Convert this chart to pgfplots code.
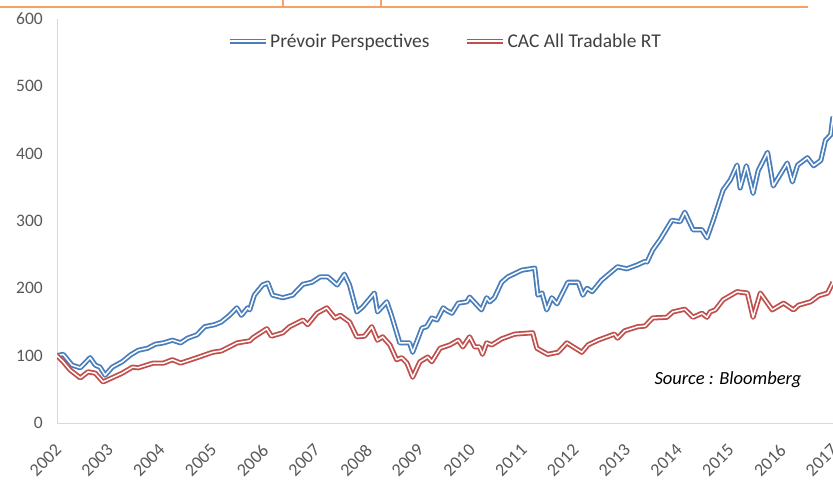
\documentclass[border=0pt]{standalone}
\usepackage{pgfplots}
\pgfplotsset{compat=1.18}
\usepackage{fontspec}
\setmainfont{Carlito}
\definecolor{pblue}{RGB}{74,126,187}
\definecolor{cred}{RGB}{192,80,77}
\definecolor{tickgray}{RGB}{89,89,89}
\definecolor{legtext}{RGB}{64,64,64}
\definecolor{axgray}{RGB}{217,217,217}
\definecolor{orangeline}{RGB}{247,160,100}
\begin{document}
\begin{tikzpicture}
\useasboundingbox (0,0) rectangle (833bp,480bp);
\fill[white] (0,0) rectangle (833bp,480bp);
\draw[orangeline, line width=2bp] (0,473bp) -- (808bp,473bp);
\draw[orangeline, line width=2bp] (283bp,473bp) -- (283bp,480bp);
\draw[orangeline, line width=2bp] (381bp,473bp) -- (381bp,480bp);
\begin{axis}[
  at={(57bp,57bp)}, anchor=south west,
  scale only axis, width=776bp, height=404bp,
  xmin=2002, xmax=2017, ymin=0, ymax=600,
  axis lines*=left,
  axis line style={axgray, line width=1bp},
  xtick={2002,...,2017}, ytick={0,100,...,600},
  major tick length=0pt,
  /pgf/number format/assume math mode=true,
  /pgf/number format/1000 sep={},
  x tick label style={rotate=45, anchor=north east, inner sep=0pt,
     font=\fontsize{18bp}{21bp}\selectfont, text=tickgray, xshift=-16bp, yshift=-12bp},
  y tick label style={anchor=east, inner sep=0pt,
     font=\fontsize{17.5bp}{20bp}\selectfont, text=tickgray, xshift=-14bp},
  legend style={at={(0.5,0.945)}, anchor=center, draw=none, fill=none,
     legend columns=2, font=\fontsize{19.5bp}{22bp}\selectfont, text=legtext,
     /tikz/every even column/.append style={column sep=33bp}, inner sep=0pt},
  legend cell align=left,
  legend image code/.code={\draw[#1] (0bp,0bp) -- (36bp,0bp);},
  every axis plot/.append style={line join=round, line width=1.8bp, double=white, double distance=1.5bp},
]
\addplot[pblue] coordinates {
(2002.00,100) (2002.12,102) (2002.29,86) (2002.45,82) (2002.64,97) (2002.74,86)
(2002.83,83) (2002.93,71) (2003.07,83) (2003.26,91) (2003.42,101) (2003.57,108)
(2003.75,111) (2003.90,117) (2004.06,119) (2004.23,123) (2004.39,119)
(2004.525,126) (2004.705,131) (2004.855,143)
(2005.045,146) (2005.175,150) (2005.335,160) (2005.475,171) (2005.565,160) (2005.685,171)
(2005.725,168) (2005.815,190) (2005.975,205) (2006.075,208) (2006.165,190) (2006.365,186)
(2006.555,190) (2006.755,206) (2006.925,209) (2007.085,217) (2007.235,217) (2007.415,205)
(2007.555,221) (2007.655,205) (2007.795,165) (2007.905,172) (2008.135,193) (2008.195,165)
(2008.375,180) (2008.465,160) (2008.625,119) (2008.815,119) (2008.875,105) (2009.055,141)
(2009.145,143) (2009.245,156) (2009.345,153) (2009.465,171) (2009.535,167) (2009.635,163)
(2009.755,178) (2009.925,180)
(2009.975,187) (2010.205,168) (2010.305,186) (2010.365,180) (2010.455,186) (2010.595,209)
(2010.715,217) (2010.985,227) (2011.235,230) (2011.295,190) (2011.375,193) (2011.465,168)
(2011.565,186) (2011.665,177) (2011.875,209) (2012.075,209) (2012.165,190) (2012.245,200)
(2012.345,195)
(2012.525,212) (2012.835,232) (2013.015,229) (2013.225,235) (2013.365,240) (2013.405,239)
(2013.515,257) (2013.655,272) (2013.885,301) (2014.045,299) (2014.135,313) (2014.295,287)
(2014.465,287) (2014.565,275) (2014.685,301) (2014.875,346) (2015.015,361) (2015.145,383)
(2015.205,349) (2015.325,382) (2015.455,341) (2015.555,375) (2015.735,402) (2015.845,352)
(2016.115,386) (2016.215,358) (2016.315,383) (2016.505,394) (2016.625,382) (2016.765,390)
(2016.855,420) (2016.955,428) (2017.0,455)
};
\addlegendentry{Prévoir Perspectives}
\addplot[cred] coordinates {
(2002.00,100) (2002.12,91) (2002.25,79) (2002.45,67) (2002.60,76) (2002.74,74)
(2002.89,61) (2003.09,68) (2003.26,74) (2003.46,83) (2003.57,82) (2003.86,89)
(2004.06,89) (2004.23,94) (2004.39,89) (2004.705,97)
(2005.005,105) (2005.175,107) (2005.485,119) (2005.725,122) (2005.795,127) (2006.055,140)
(2006.145,129) (2006.365,134) (2006.495,143) (2006.755,153) (2006.845,146) (2007.025,163)
(2007.215,171) (2007.375,156) (2007.475,160)
(2007.655,150) (2007.795,128) (2007.945,129) (2008.085,143) (2008.195,123) (2008.295,128)
(2008.435,116) (2008.565,94) (2008.665,97) (2008.765,89) (2008.875,68) (2009.015,91)
(2009.165,98) (2009.245,91) (2009.405,111) (2009.595,116) (2009.755,123) (2009.845,113)
(2009.975,128) (2010.075,113) (2010.165,113) (2010.225,102) (2010.305,119) (2010.405,116)
(2010.595,125) (2010.845,132) (2011.195,134) (2011.275,111) (2011.485,102) (2011.685,105)
(2011.855,119) (2012.145,105) (2012.265,116) (2012.455,123)
(2012.775,132) (2012.835,126) (2012.975,137) (2013.225,143) (2013.365,144) (2013.515,156)
(2013.785,157) (2013.905,165) (2014.135,169) (2014.295,157) (2014.465,163) (2014.565,157)
(2014.625,165) (2014.725,168) (2014.875,183) (2015.145,195) (2015.345,193) (2015.455,157)
(2015.595,193) (2015.825,168) (2016.045,178) (2016.235,168) (2016.335,175) (2016.565,180)
(2016.725,189) (2016.895,193) (2017.0,209)
};
\addlegendentry{CAC All Tradable RT}
\end{axis}
\node[font=\itshape\fontsize{18.5bp}{21bp}\selectfont, text=black] at (728bp,100bp) {Source : Bloomberg};
\end{tikzpicture}
\end{document}
